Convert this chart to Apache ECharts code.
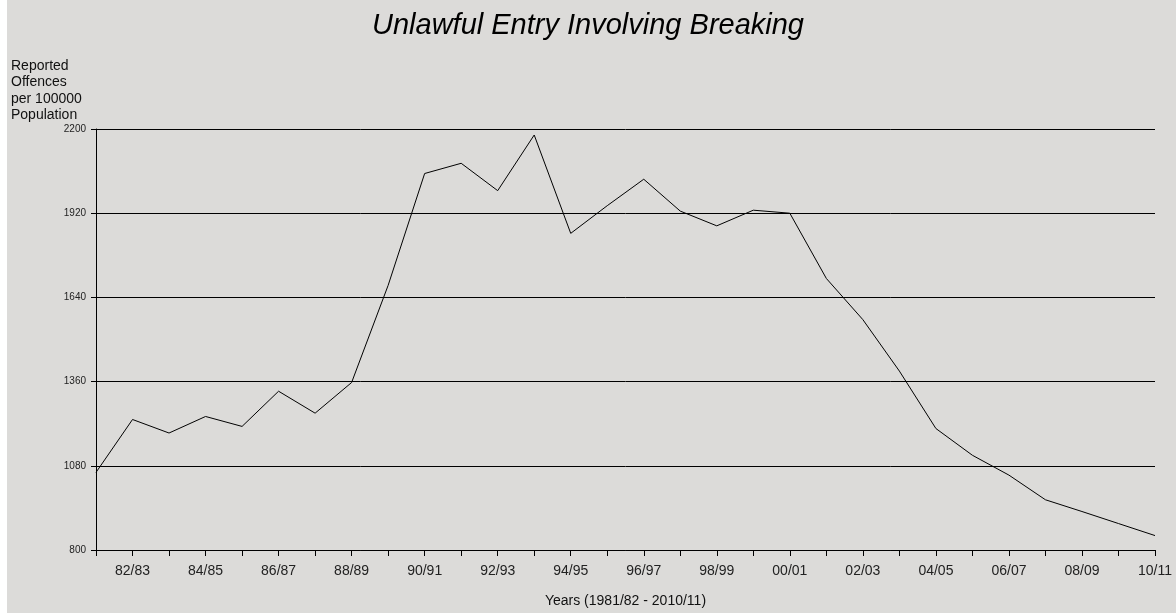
<!DOCTYPE html>
<html>
<head>
<meta charset="utf-8">
<script src="https://cdn.jsdelivr.net/npm/echarts@6/dist/echarts.min.js"></script>
<style>
  html, body { margin: 0; padding: 0; background: #ffffff; }
  #chart { position: absolute; left: 0; top: 0; width: 1176px; height: 613px;
           background: linear-gradient(to right, #ffffff 7px, #dcdbd9 7px); }
</style>
</head>
<body>
<div id="chart"></div>
<script>
const years = ['81/82','82/83','83/84','84/85','85/86','86/87','87/88','88/89','89/90','90/91',
  '91/92','92/93','93/94','94/95','95/96','96/97','97/98','98/99','99/00','00/01',
  '01/02','02/03','03/04','04/05','05/06','06/07','07/08','08/09','09/10','10/11'];
const offences = [1058, 1234, 1189, 1244, 1211, 1328, 1255, 1357, 1680, 2052,
  2086, 1995, 2180, 1853, 1945, 2033, 1927, 1878, 1930, 1920,
  1703, 1566, 1395, 1204, 1115, 1049, 967, 928, 888, 848];
const yTicks = [800, 1080, 1360, 1640, 1920, 2200];

const chart = echarts.init(document.getElementById('chart'), null, { renderer: 'canvas' });
const font = '"Liberation Sans", Arial, sans-serif';
chart.setOption({
  backgroundColor: 'transparent',
  animation: false,
  title: [
    { text: 'Unlawful Entry Involving Breaking', left: 'center', top: 11, padding: 0,
      textStyle: { fontFamily: font, fontStyle: 'italic', fontWeight: 'normal', fontSize: 29, color: '#000' } },
    { text: 'Reported\nOffences\nper 100000\nPopulation', left: 11, top: 58, padding: 0,
      textStyle: { fontFamily: font, fontWeight: 'normal', fontSize: 14, lineHeight: 16.3, color: '#111' } }
  ],
  grid: { left: 96, right: 21, top: 129, bottom: 62, containLabel: false },
  xAxis: {
    type: 'category', data: years, boundaryGap: false,
    name: 'Years (1981/82 - 2010/11)', nameLocation: 'middle', nameGap: 44,
    nameTextStyle: { fontFamily: font, fontSize: 14, color: '#111' },
    axisLine: { lineStyle: { color: '#000', width: 1 } },
    axisTick: { show: true, interval: 0, length: 6, lineStyle: { color: '#000' } },
    axisLabel: { interval: function (i) { return i % 2 === 1; }, fontFamily: font, fontSize: 14, color: '#222', margin: 14 },
    splitLine: { show: false }
  },
  yAxis: {
    type: 'value', min: yTicks[0], max: yTicks[yTicks.length - 1], interval: yTicks[1] - yTicks[0],
    axisLine: { show: true, lineStyle: { color: '#000', width: 1 } },
    axisTick: { show: true, length: 5, lineStyle: { color: '#000' } },
    axisLabel: { formatter: function (v) { return String(v); }, fontFamily: font, fontSize: 10, color: '#222', margin: 10 },
    splitLine: { show: true, lineStyle: { color: '#000', width: 1 } }
  },
  series: [{
    type: 'line', data: offences, symbol: 'none',
    lineStyle: { color: '#000', width: 1 }
  }]
});
</script>
</body>
</html>
